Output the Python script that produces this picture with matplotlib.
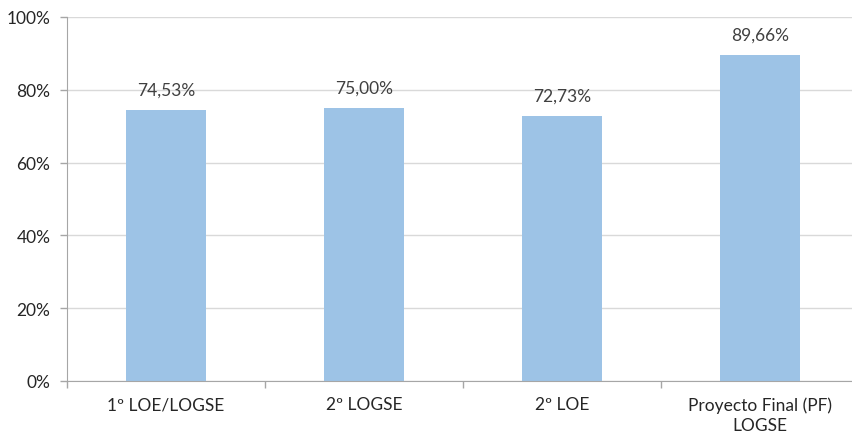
import matplotlib.pyplot as plt
from matplotlib.ticker import FixedLocator

plt.rcParams['font.family'] = ['Lato', 'DejaVu Sans']

categories = ["1º LOE/LOGSE", "2º LOGSE", "2º LOE", "Proyecto Final (PF)\nLOGSE"]
values = [74.53, 75.00, 72.73, 89.66]
yticks = [0, 20, 40, 60, 80, 100]

fig = plt.figure(figsize=(8.52, 4.35), dpi=100)
ax = fig.add_axes([67 / 852, 53 / 435, 792 / 852, 364 / 435])

x = list(range(len(categories)))
ax.bar(x, values, width=0.4, color="#9DC3E6", zorder=3)

for xi, v in zip(x, values):
    ax.annotate(f"{v:.2f}%".replace(".", ","), (xi, v), xytext=(0, 9),
                textcoords="offset points", ha="center", va="bottom",
                fontsize=12.5, color="#404040")

ax.set_xlim(-0.5, 3.5)
ax.set_ylim(0, 100)
ax.set_yticks(yticks)
ax.set_yticklabels([f"{t}%" for t in yticks])
ax.grid(axis="y", color="#D9D9D9", linewidth=1, zorder=0)

ax.set_xticks(x)
ax.set_xticklabels(categories, linespacing=1.35)
ax.xaxis.set_minor_locator(FixedLocator([-0.5, 0.5, 1.5, 2.5, 3.5]))
ax.tick_params(axis="x", which="major", length=0, pad=11, labelsize=12.5, labelcolor="#262626")
ax.tick_params(axis="x", which="minor", length=5, color="#A6A6A6", width=1)
ax.tick_params(axis="y", length=5, color="#A6A6A6", width=1, labelsize=12.5,
               labelcolor="#262626", pad=7)

for s in ["top", "right"]:
    ax.spines[s].set_visible(False)
for s in ["left", "bottom"]:
    ax.spines[s].set_color("#A6A6A6")
    ax.spines[s].set_zorder(4)

fig.savefig("out.png", dpi=100)
